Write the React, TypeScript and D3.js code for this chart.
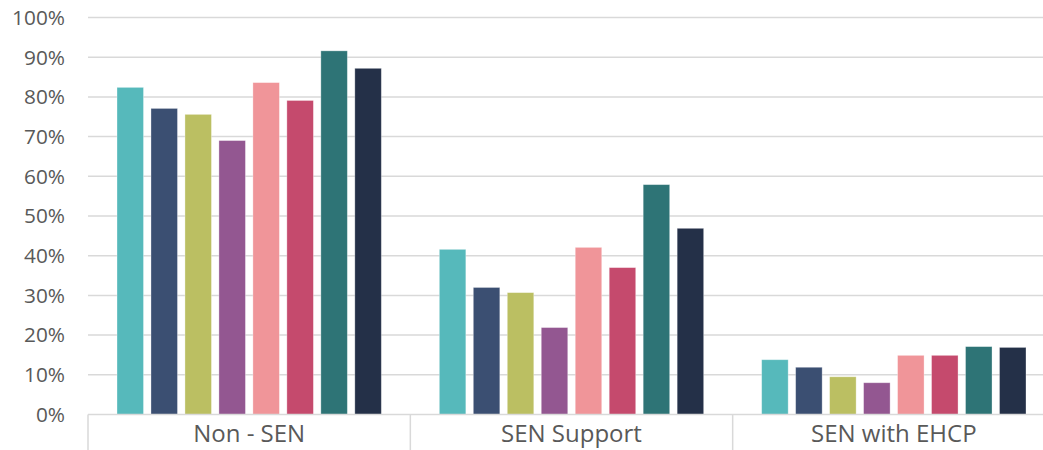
import React from "react";
import * as d3 from "d3";

const categories = ["Non - SEN", "SEN Support", "SEN with EHCP"];
const seriesNames = ["S1", "S2", "S3", "S4", "S5", "S6", "S7", "S8"];
const nonSen = [82.4, 77.1, 75.6, 69.0, 83.6, 79.1, 91.6, 87.2];
const senSupport = [41.6, 32.0, 30.7, 21.9, 42.1, 37.0, 57.9, 46.9];
const senEhcp = [13.8, 11.9, 9.5, 8.0, 14.9, 14.9, 17.1, 16.9];
const colors = ["#56B9BB", "#3B4F72", "#BBBF62", "#935791", "#F09599", "#C54A6D", "#2E7476", "#243048"];
const yTicks = [0, 10, 20, 30, 40, 50, 60, 70, 80, 90, 100];

const W = 1043;
const H = 450;
const left = 88;
const right = 1055;
const top = 17.5;
const bottom = 414.5;

export default function App() {
  const values = [nonSen, senSupport, senEhcp];
  const x0 = d3.scaleBand<string>().domain(categories).range([left, right]).padding(0);
  const cw = x0.bandwidth();
  const outer = 29;
  const x1 = d3.scaleBand<string>().domain(seriesNames).range([outer, cw - outer]).paddingInner(0.22).paddingOuter(0);
  const y = d3.scaleLinear().domain([0, 100]).range([bottom, top]);
  const font = "'Open Sans', 'Noto Sans', sans-serif";

  return (
    <svg width={W} height={H} style={{ position: "absolute", left: 0, top: 0, background: "#fff" }}>
      {yTicks.map((t) => (
        <g key={t}>
          {t > 0 && (
            <line x1={left} x2={right} y1={y(t)} y2={y(t)} stroke="#d9d9d9" strokeWidth={1.5} />
          )}
          <text x={65} y={y(t) + 7.3} textAnchor="end" fontFamily={font} fontSize={20.8} fill="#595959">
            {t}%
          </text>
        </g>
      ))}
      {categories.map((c, ci) => (
        <g key={c} transform={`translate(${x0(c)},0)`}>
          {values[ci].map((v, si) => (
            <rect
              key={si}
              x={x1(seriesNames[si])}
              y={y(v)}
              width={x1.bandwidth()}
              height={y(0) - y(v)}
              fill={colors[si]}
              stroke="#ffffff"
              strokeOpacity={0.4}
              strokeWidth={0.8}
            />
          ))}
          <text x={cw / 2} y={442.3} textAnchor="middle" fontFamily={font} fontSize={24} fill="#595959">
            {c}
          </text>
        </g>
      ))}
      <line x1={left} x2={right} y1={bottom} y2={bottom} stroke="#d9d9d9" strokeWidth={1.5} />
      {[...categories.map((c) => x0(c) as number), right].map((xv, i) => (
        <line key={i} x1={xv} x2={xv} y1={bottom} y2={H} stroke="#d9d9d9" strokeWidth={1.5} />
      ))}
    </svg>
  );
}
